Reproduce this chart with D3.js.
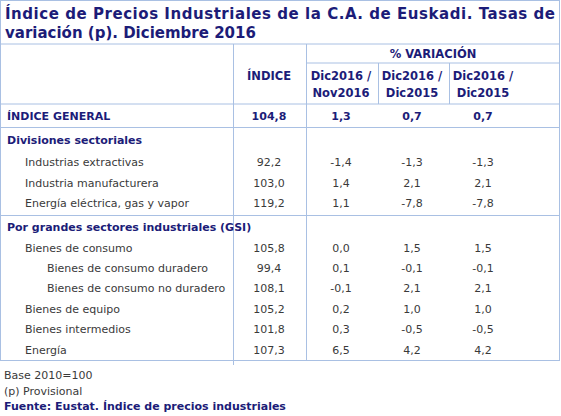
<!DOCTYPE html><html><head><meta charset="utf-8"><script src="https://cdn.jsdelivr.net/npm/d3@7"></script>
<style>body{margin:0;background:#fff}</style></head><body><svg id="c" width="561" height="416"></svg>
<script>
const titleLines=["Índice de Precios Industriales de la C.A. de Euskadi. Tasas de","variación (p). Diciembre 2016"];
const colHeads=[["ÍNDICE"],["Dic2016 /","Nov2016"],["Dic2016 /","Dic2015"],["Dic2016 /","Dic2015"]];
const rowLabels=["ÍNDICE GENERAL","Divisiones sectoriales","Industrias extractivas","Industria manufacturera","Energía eléctrica, gas y vapor","Por grandes sectores industriales (GSI)","Bienes de consumo","Bienes de consumo duradero","Bienes de consumo no duradero","Bienes de equipo","Bienes intermedios","Energía"];
const rowLevel=[0,0,1,1,1,0,1,2,2,1,1,1];
const rowBold=[1,1,0,0,0,1,0,0,0,0,0,0];
const indice=["104,8","","92,2","103,0","119,2","","105,8","99,4","108,1","105,2","101,8","107,3"];
const varMes=["1,3","","-1,4","1,4","1,1","","0,0","0,1","-0,1","0,2","0,3","6,5"];
const varAnual=["0,7","","-1,3","2,1","-7,8","","1,5","-0,1","2,1","1,0","-0,5","4,2"];
const varAcum=["0,7","","-1,3","2,1","-7,8","","1,5","-0,1","2,1","1,0","-0,5","4,2"];
const footer=["Base 2010=100","(p) Provisional","Fuente: Eustat. Índice de precios industriales"];
const rowY=[116,140,162,183,203,227,248,268,288,309,329,350];

const svg=d3.select("#c");
const F="Verdana, 'DejaVu Sans', sans-serif";
const navy="#1c1c78", gray="#3a3a3a", bc="#a9c0e3";
const colX=d3.scaleOrdinal().domain([0,1,2,3]).range([269,341,412,483]);
const indent=d3.scaleOrdinal().domain([0,1,2]).range([7,25,47]);
const line=(x1,y1,x2,y2)=>svg.append("line").attr("x1",x1).attr("y1",y1).attr("x2",x2).attr("y2",y2).attr("stroke",bc).attr("stroke-width",1);
svg.append("rect").attr("x",0.5).attr("y",0.5).attr("width",559).attr("height",360).attr("fill","none").attr("stroke",bc);
line(0,44,560,44);line(307,63,560,63);line(0,104,560,104);line(0,127.5,560,127.5);line(0,215.5,560,215.5);
line(233.5,44,233.5,365);line(306.5,44,306.5,361);line(378.5,63,378.5,104);line(449.5,63,449.5,104);
titleLines.forEach((t,i)=>{const e=svg.append("text").attr("x",5).attr("y",19+i*19).attr("font-family",F).attr("font-weight","bold").attr("font-size",15).attr("fill",navy).text(t);
 if(i==0)e.attr("textLength",550).attr("lengthAdjust","spacing");});
svg.append("text").attr("x",433).attr("y",58).attr("text-anchor","middle").attr("font-family",F).attr("font-weight","bold").attr("font-size",11.5).attr("fill",navy).text("% VARIACIÓN");
colHeads.forEach((h,i)=>h.forEach((t,j)=>svg.append("text").attr("x",colX(i)).attr("y",(h.length==1?80:80+j*17)).attr("text-anchor","middle").attr("font-family",F).attr("font-weight","bold").attr("font-size",11.5).attr("fill",navy).text(t)));
rowLabels.forEach((l,i)=>{
 svg.append("text").attr("x",indent(rowLevel[i])).attr("y",rowY[i]+4).attr("font-family",F).attr("font-size",11).attr("font-weight",rowBold[i]?"bold":"normal").attr("fill",rowBold[i]?navy:gray).text(l);
 [indice,varMes,varAnual,varAcum].forEach((arr,c)=>{if(arr[i])svg.append("text").attr("x",colX(c)).attr("y",rowY[i]+4).attr("text-anchor","middle").attr("font-family",F).attr("font-size",11).attr("font-weight",i==0?"bold":"normal").attr("fill",i==0?navy:gray).text(arr[i]);});
});
footer.forEach((t,i)=>svg.append("text").attr("x",4).attr("y",379+i*15.5).attr("font-family",F).attr("font-size",11).attr("font-weight",i==2?"bold":"normal").attr("fill",i==2?navy:gray).text(t));
</script></body></html>
